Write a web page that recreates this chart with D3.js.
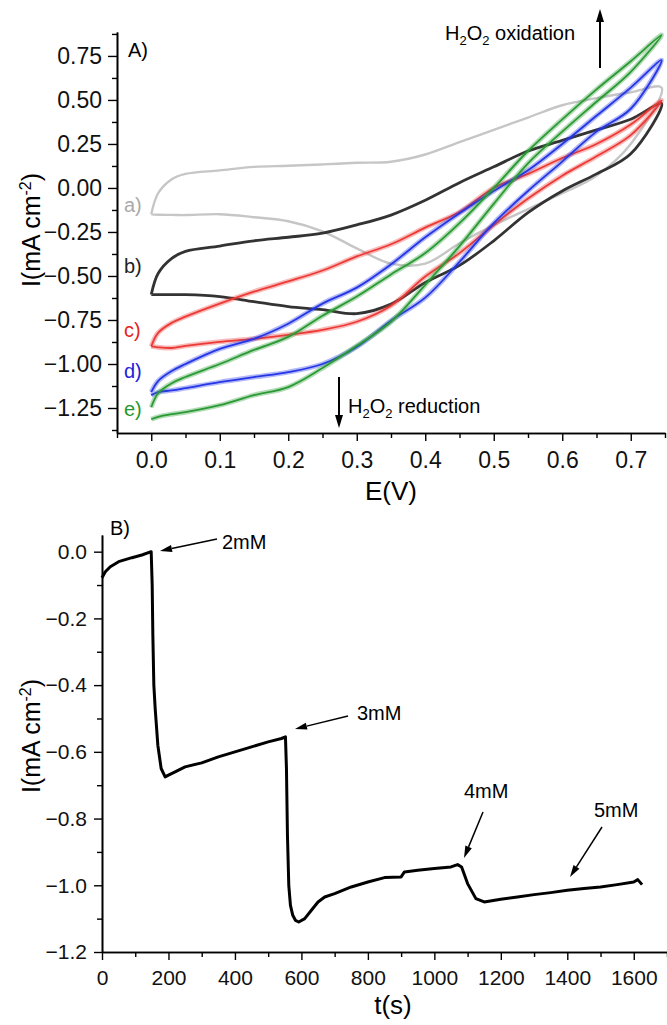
<!DOCTYPE html>
<html>
<head>
<meta charset="utf-8">
<script src="https://cdn.jsdelivr.net/npm/d3@7"></script>
<style>
  body { margin: 0; background: #fff; }
  text { font-family: Arial, "Liberation Sans", sans-serif; }
</style>
</head>
<body>
<svg id="chart" width="667" height="1025"></svg>
<script>
// ---- panel A: cyclic voltammograms, both branches read on the same E grid
var eGrid = [0, 0.01, 0.03, 0.05, 0.1, 0.15, 0.2, 0.25, 0.3, 0.35, 0.4, 0.45, 0.5, 0.55, 0.6, 0.65, 0.7, 0.745];

// upper branch (going out to 0.745 V) and lower branch (coming back), mA cm-2
var aUp   = [-0.15, -0.03, 0.05, 0.08, 0.10, 0.12, 0.126, 0.134, 0.143, 0.149, 0.19, 0.26, 0.33, 0.40, 0.47, 0.51, 0.543, 0.57];
var aDown = [-0.15, -0.152, -0.153, -0.154, -0.149, -0.166, -0.189, -0.246, -0.343, -0.43, -0.43, -0.314, -0.211, -0.12, -0.03, 0.07, 0.25, 0.57];
var bUp   = [-0.606, -0.486, -0.40, -0.36, -0.33, -0.30, -0.28, -0.257, -0.21, -0.154, -0.07, 0.03, 0.12, 0.21, 0.27, 0.33, 0.39, 0.48];
var bDown = [-0.606, -0.606, -0.606, -0.606, -0.617, -0.646, -0.674, -0.691, -0.714, -0.66, -0.537, -0.44, -0.30, -0.14, -0.017, 0.08, 0.194, 0.48];
var cUp   = [-0.90, -0.823, -0.766, -0.731, -0.657, -0.589, -0.531, -0.469, -0.389, -0.32, -0.225, -0.137, 0.0, 0.08, 0.17, 0.25, 0.36, 0.497];
var cDown = [-0.90, -0.905, -0.909, -0.897, -0.874, -0.857, -0.834, -0.806, -0.76, -0.669, -0.503, -0.37, -0.21, -0.06, 0.07, 0.18, 0.30, 0.497];
var dUp   = [-1.16, -1.097, -1.04, -1.0, -0.914, -0.857, -0.771, -0.657, -0.566, -0.434, -0.28, -0.143, -0.017, 0.10, 0.25, 0.41, 0.57, 0.726];
var dDown = [-1.177, -1.16, -1.15, -1.137, -1.103, -1.074, -1.046, -1.0, -0.903, -0.754, -0.623, -0.42, -0.2, -0.017, 0.15, 0.32, 0.45, 0.726];
var eUp   = [-1.246, -1.166, -1.109, -1.074, -1.0, -0.92, -0.846, -0.726, -0.617, -0.491, -0.37, -0.2, 0.0, 0.21, 0.39, 0.56, 0.72, 0.869];
var eDown = [-1.314, -1.3, -1.285, -1.274, -1.234, -1.177, -1.131, -1.023, -0.897, -0.76, -0.55, -0.33, -0.09, 0.14, 0.32, 0.49, 0.66, 0.869];

var cvLabels = ["a)", "b)", "c)", "d)", "e)"];
var cvColours = ["#c6c6c6", "#333333", "#ec3a36", "#2536e6", "#2a9a34"];
var labelColours = ["#aaaaaa", "#222222", "#e52420", "#2222dd", "#24982c"];

var aYTicks = [-1.25, -1, -0.75, -0.5, -0.25, 0, 0.25, 0.5, 0.75];
var aXTicks = [0, 0.1, 0.2, 0.3, 0.4, 0.5, 0.6, 0.7];

// ---- panel B: amperometric steps
var tSec = [0, 10, 25, 50, 90, 120, 148, 151, 153, 156, 160, 168, 178, 190, 200, 220, 250, 300, 350, 400, 450, 500, 540, 552,
            555, 558, 562, 567, 574, 582, 592, 610, 630, 650, 670, 700, 750, 800, 850, 900, 910, 950, 1000, 1050, 1070, 1082,
            1100, 1125, 1150, 1200, 1250, 1300, 1350, 1400, 1450, 1500, 1550, 1600, 1612, 1625];
var iStep = [-0.078, -0.06, -0.045, -0.03, -0.018, -0.01, 0.0, -0.1, -0.25, -0.40, -0.47, -0.58, -0.65, -0.675,
             -0.67, -0.66, -0.645, -0.633, -0.615, -0.6, -0.585, -0.57, -0.56, -0.555,
             -0.65, -0.85, -1.0, -1.06, -1.09, -1.105, -1.11, -1.1, -1.075, -1.05, -1.035, -1.025, -1.005, -0.99, -0.977, -0.975,
             -0.96, -0.955, -0.95, -0.945, -0.938, -0.945, -0.995, -1.04, -1.05, -1.042, -1.035, -1.028, -1.022, -1.015,
             -1.01, -1.005, -0.998, -0.99, -0.983, -0.998];
var bYTicks = [-1.2, -1.0, -0.8, -0.6, -0.4, -0.2, 0.0];
var bXTicks = [0, 200, 400, 600, 800, 1000, 1200, 1400, 1600];

var svg = d3.select("#chart");

// arrow = line plus filled triangle at the tip
function arrow(x1, y1, x2, y2, len, half, w) {
    var a = Math.atan2(y2 - y1, x2 - x1);
    var bx = x2 - len * Math.cos(a), by = y2 - len * Math.sin(a);
    svg.append("line")
        .attr("x1", x1).attr("y1", y1).attr("x2", bx).attr("y2", by)
        .attr("stroke", "#000").attr("stroke-width", w);
    var px = -Math.sin(a) * half, py = Math.cos(a) * half;
    svg.append("path")
        .attr("d", "M" + x2 + "," + y2 + "L" + (bx + px) + "," + (by + py) + "L" + (bx - px) + "," + (by - py) + "Z")
        .attr("fill", "#000");
}

function styleAxis(g, size) {
    g.select(".domain").attr("stroke", "#000").attr("stroke-width", 1.6);
    g.selectAll(".tick line").attr("stroke", "#000").attr("stroke-width", 1.4);
    g.selectAll("text").style("font-size", size + "px").attr("fill", "#111");
}

// ================= panel A =================
var xA = d3.scaleLinear().domain([-0.05, 0.75]).range([117, 665]);
var yA = d3.scaleLinear().domain([-1.392, 0.886]).range([433, 32]);

var aYMinor = d3.range(-1.375, 0.9, 0.25);
var aXMinor = d3.range(-0.05, 0.76, 0.1);

svg.append("g").attr("transform", "translate(117,0)")
    .call(d3.axisLeft(yA).tickValues(aYMinor).tickSize(5).tickSizeOuter(0).tickFormat(""))
    .call(styleAxis, 23);
svg.append("g").attr("transform", "translate(117,0)")
    .call(d3.axisLeft(yA).tickValues(aYTicks).tickSize(9).tickPadding(6).tickSizeOuter(0).tickFormat(d3.format(".2f")))
    .call(styleAxis, 23);
svg.append("g").attr("transform", "translate(0,433)")
    .call(d3.axisBottom(xA).tickValues(aXMinor).tickSize(5).tickSizeOuter(0).tickFormat(""))
    .call(styleAxis, 23);
svg.append("g").attr("transform", "translate(0,433)")
    .call(d3.axisBottom(xA).tickValues(aXTicks).tickSize(8).tickPadding(11).tickSizeOuter(0).tickFormat(d3.format(".1f")))
    .call(styleAxis, 23);

var cvLine = d3.line()
    .x(function (d) { return xA(d[0]); })
    .y(function (d) { return yA(d[1]); })
    .curve(d3.curveCatmullRom.alpha(0.5));

var cvSeries = [[aUp, aDown], [bUp, bDown], [cUp, cDown], [dUp, dDown], [eUp, eDown]];

cvSeries.forEach(function (s, k) {
    var pts = eGrid.map(function (e, i) { return [e, s[0][i]]; });
    var back = eGrid.map(function (e, i) { return [e, s[1][i]]; }).reverse();
    pts = pts.concat(back.slice(1));
    if (k >= 2) {
        // noisy traces: faint wide halo under a thinner core
        svg.append("path").attr("d", cvLine(pts)).attr("fill", "none")
            .attr("stroke", cvColours[k]).attr("stroke-opacity", 0.35).attr("stroke-width", 5);
        svg.append("path").attr("d", cvLine(pts)).attr("fill", "none")
            .attr("stroke", cvColours[k]).attr("stroke-width", 1.8);
    } else {
        svg.append("path").attr("d", cvLine(pts)).attr("fill", "none")
            .attr("stroke", cvColours[k]).attr("stroke-width", k === 0 ? 2.4 : 2.8);
    }
});

var labelY = [212, 273, 337, 378, 416];
cvLabels.forEach(function (t, k) {
    svg.append("text").attr("x", 124).attr("y", labelY[k])
        .style("font-size", "20px").attr("fill", labelColours[k]).text(t);
});

svg.append("text").attr("x", 128).attr("y", 57).style("font-size", "20px").text("A)");

function h2o2(x, y, rest) {
    var t = svg.append("text").attr("x", x).attr("y", y).style("font-size", "20px");
    t.append("tspan").text("H");
    t.append("tspan").attr("dy", 5).style("font-size", "13px").text("2");
    t.append("tspan").attr("dy", -5).text("O");
    t.append("tspan").attr("dy", 5).style("font-size", "13px").text("2");
    t.append("tspan").attr("dy", -5).text(rest);
}
h2o2(445, 40, " oxidation");
h2o2(348, 413, " reduction");
arrow(600, 68, 600, 9, 13, 4, 2);
arrow(339, 377, 339, 428, 13, 4, 2);

svg.append("text").attr("x", 391).attr("y", 500).attr("text-anchor", "middle")
    .style("font-size", "26px").text("E(V)");

function yTitle(cx, cy) {
    var t = svg.append("text").attr("transform", "translate(" + cx + "," + cy + ") rotate(-90)")
        .attr("text-anchor", "middle").style("font-size", "25px");
    t.append("tspan").text("I(mA cm");
    t.append("tspan").attr("dy", -9).style("font-size", "16px").text("-2");
    t.append("tspan").attr("dy", 9).text(")");
}
yTitle(40, 230);

// ================= panel B =================
var xB = d3.scaleLinear().domain([0, 1700]).range([102, 667]);
var yB = d3.scaleLinear().domain([-1.2, 0.05]).range([952, 535]);

svg.append("g").attr("transform", "translate(102,0)")
    .call(d3.axisLeft(yB).tickValues(d3.range(-1.1, 0, 0.2)).tickSize(5).tickSizeOuter(0).tickFormat(""))
    .call(styleAxis, 21);
svg.append("g").attr("transform", "translate(102,0)")
    .call(d3.axisLeft(yB).tickValues(bYTicks).tickSize(8).tickPadding(7).tickSizeOuter(0).tickFormat(d3.format(".1f")))
    .call(styleAxis, 21);
svg.append("g").attr("transform", "translate(0,952)")
    .call(d3.axisBottom(xB).tickValues(d3.range(100, 1701, 200)).tickSize(5).tickSizeOuter(0).tickFormat(""))
    .call(styleAxis, 21);
svg.append("g").attr("transform", "translate(0,952)")
    .call(d3.axisBottom(xB).tickValues(bXTicks).tickSize(8).tickPadding(10).tickSizeOuter(0).tickFormat(d3.format("d")))
    .call(styleAxis, 21);

var stepLine = d3.line()
    .x(function (d, i) { return xB(tSec[i]); })
    .y(function (d) { return yB(d); });

svg.append("path").attr("d", stepLine(iStep)).attr("fill", "none")
    .attr("stroke", "#000").attr("stroke-width", 3).attr("stroke-linejoin", "round");

svg.append("text").attr("x", 110).attr("y", 535).style("font-size", "20px").text("B)");

var noteText = ["2mM", "3mM", "4mM", "5mM"];
var noteXY = [[222, 549], [357, 720], [464, 798], [594, 817]];
noteText.forEach(function (t, i) {
    svg.append("text").attr("x", noteXY[i][0]).attr("y", noteXY[i][1]).style("font-size", "20px").text(t);
});
arrow(217, 539, 160, 551, 12, 3.5, 1.5);
arrow(348, 716, 295, 729, 12, 3.5, 1.5);
arrow(483, 812, 464, 858, 12, 3.5, 1.5);
arrow(602, 827, 570, 877, 12, 3.5, 1.5);

svg.append("text").attr("x", 393).attr("y", 1014).attr("text-anchor", "middle")
    .style("font-size", "26px").text("t(s)");
yTitle(40, 736);
</script>
</body>
</html>
